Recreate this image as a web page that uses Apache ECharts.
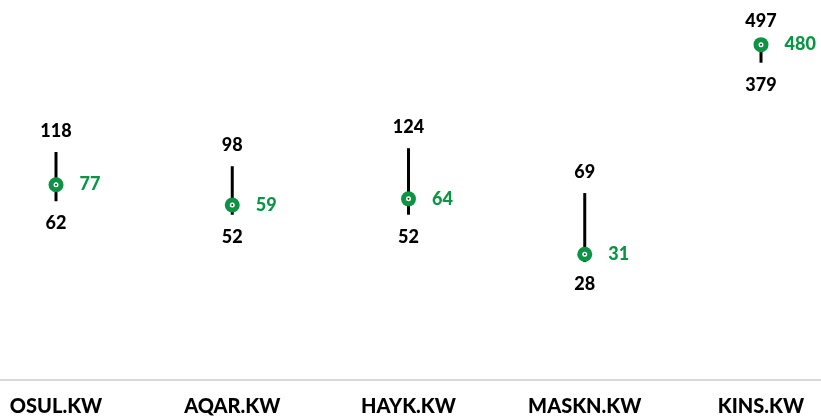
<!DOCTYPE html>
<html>
<head>
<meta charset="utf-8">
<script src="https://cdn.jsdelivr.net/npm/echarts@6/dist/echarts.min.js"></script>
<style>
html,body{margin:0;padding:0;background:#fff;}
#chart{width:821px;height:418px;}
</style>
</head>
<body>
<div id="chart"></div>
<script>
const categories = ['OSUL.KW', 'AQAR.KW', 'HAYK.KW', 'MASKN.KW', 'KINS.KW'];
const highValues = [118, 98, 124, 69, 497];
const lowValues = [62, 52, 52, 28, 379];
const currentValues = [77, 59, 64, 31, 480];

const GREEN = '#0b9444';
const FONT = 'Lato';
const WEIGHT = 900;

const chart = echarts.init(document.getElementById('chart'), null, {renderer: 'canvas'});

const toPts = arr => arr.map((v, i) => [i, v]);

const labelBase = {
  show: true,
  color: '#000',
  fontFamily: FONT,
  fontWeight: WEIGHT,
  fontSize: 18,
  opacity: 1,
  formatter: p => p.value[1]
};

const option = {
  animation: false,
  backgroundColor: '#ffffff',
  grid: [
    {left: 56, right: 60, top: 0, bottom: 38, containLabel: false},
    {left: 0, right: 0, top: 0, bottom: 38, containLabel: false}
  ],
  xAxis: [
    {
      type: 'category',
      gridIndex: 0,
      data: categories,
      boundaryGap: false,
      axisLine: {show: false},
      axisTick: {show: false},
      splitLine: {show: false},
      axisLabel: {
        color: '#000',
        fontFamily: FONT,
        fontWeight: WEIGHT,
        fontSize: 20,
        margin: 17,
        interval: 0
      }
    },
    {
      type: 'value',
      gridIndex: 1,
      min: 0,
      max: 1,
      axisLine: {show: true, onZero: false, lineStyle: {color: '#d9d9d9', width: 2}},
      axisTick: {show: false},
      axisLabel: {show: false},
      splitLine: {show: false}
    }
  ],
  yAxis: [
    {
      type: 'log',
      gridIndex: 0,
      logBase: 10,
      min: 6,
      max: 860,
      show: false,
      splitLine: {show: false}
    },
    {
      type: 'value',
      gridIndex: 1,
      min: 0,
      max: 1,
      show: false
    }
  ],
  series: [
    {
      type: 'custom',
      z: 1,
      silent: true,
      data: categories.map((c, i) => [i, highValues[i], lowValues[i]]),
      encode: {x: 0, y: [1, 2]},
      renderItem: function (params, api) {
        const x = api.value(0);
        const hi = api.coord([x, api.value(1)]);
        const lo = api.coord([x, api.value(2)]);
        return {
          type: 'line',
          shape: {x1: hi[0], y1: hi[1], x2: lo[0], y2: lo[1]},
          style: {stroke: '#000', lineWidth: 3}
        };
      }
    },
    {
      type: 'scatter',
      z: 2,
      silent: true,
      symbolSize: 0,
      itemStyle: {opacity: 1},
      data: toPts(highValues),
      label: Object.assign({}, labelBase, {position: 'top', distance: 12})
    },
    {
      type: 'scatter',
      z: 2,
      silent: true,
      symbolSize: 0,
      itemStyle: {opacity: 1},
      data: toPts(lowValues),
      label: Object.assign({}, labelBase, {position: 'bottom', distance: 13})
    },
    {
      type: 'scatter',
      z: 3,
      silent: true,
      symbol: 'circle',
      symbolSize: 15,
      itemStyle: {color: GREEN, opacity: 1},
      data: toPts(currentValues),
      label: Object.assign({}, labelBase, {position: 'right', distance: 16, color: GREEN})
    },
    {
      type: 'scatter',
      z: 4,
      silent: true,
      symbol: 'circle',
      symbolSize: 5,
      itemStyle: {color: '#ffffff', opacity: 1},
      data: toPts(currentValues)
    },
    {
      type: 'scatter',
      z: 5,
      silent: true,
      symbol: 'circle',
      symbolSize: 2,
      itemStyle: {color: '#1d3d2a', opacity: 1},
      data: toPts(currentValues)
    }
  ]
};

chart.setOption(option);
</script>
</body>
</html>
